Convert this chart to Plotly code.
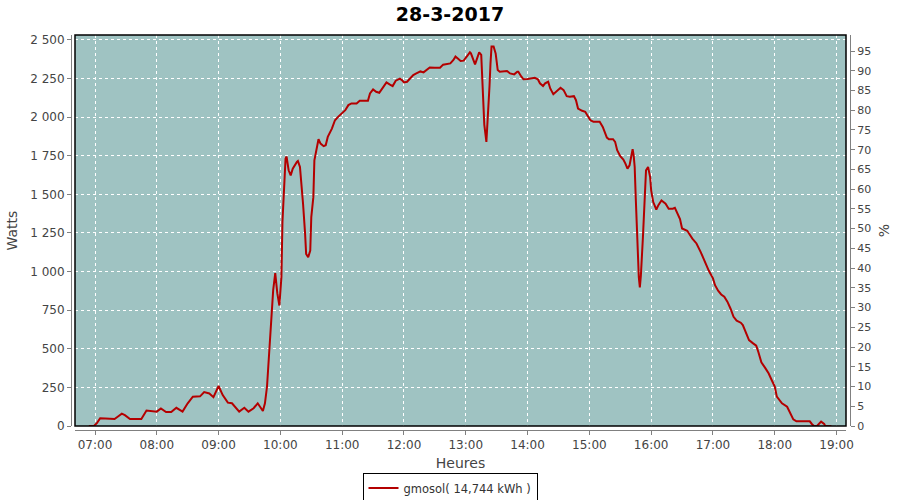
import plotly.graph_objects as go

DAY = "2017-03-28"
times = ["06:54","06:59","07:02","07:05","07:10","07:19","07:23","07:26","07:29","07:34","07:40","07:45",
         "07:50","07:55","08:00","08:04","08:09","08:14","08:19","08:25","08:30","08:35","08:42","08:46",
         "08:51","08:55","09:00","09:04","09:09","09:13","09:20","09:25","09:29","09:34","09:38","09:43",
         "09:45","09:47","09:49","09:51","09:53","09:55","09:57","09:59","10:01","10:02","10:03","10:04",
         "10:05","10:06","10:08","10:10","10:12","10:16","10:17","10:19","10:21","10:22","10:24","10:25",
         "10:27","10:29","10:30","10:32","10:33","10:35","10:37","10:39","10:42","10:44","10:46","10:50",
         "10:53","10:56","10:59","11:03","11:06","11:09","11:14","11:17","11:22","11:25","11:27","11:30",
         "11:33","11:36","11:39","11:43","11:46","11:49","11:52","11:56","11:58","12:00","12:03","12:06",
         "12:09","12:12","12:16","12:19","12:22","12:25","12:30","12:35","12:38","12:42","12:45","12:48",
         "12:50","12:52","12:55","12:58","13:01","13:04","13:05","13:07","13:09","13:11","13:13","13:15",
         "13:16","13:17","13:18","13:20","13:21","13:22","13:23","13:24","13:25","13:27","13:29","13:30",
         "13:31","13:33","13:37","13:40","13:43","13:47","13:50","13:51","13:54","13:56","14:00","14:04",
         "14:07","14:10","14:12","14:15","14:17","14:20","14:22","14:25","14:28","14:32","14:35","14:38",
         "14:41","14:45","14:47","14:49","14:53","14:56","14:58","15:01","15:04","15:10","15:13","15:15",
         "15:17","15:19","15:23","15:25","15:27","15:30","15:33","15:35","15:37","15:39","15:41","15:42",
         "15:43","15:44","15:45","15:46","15:47","15:48","15:49","15:50","15:52","15:53","15:54","15:55",
         "15:57","15:59","16:00","16:02","16:05","16:07","16:10","16:14","16:17","16:21","16:23","16:25",
         "16:28","16:30","16:35","16:40","16:44","16:48","16:52","16:56","17:00","17:02","17:05","17:08",
         "17:11","17:14","17:17","17:20","17:23","17:27","17:29","17:32","17:35","17:39","17:42","17:44",
         "17:47","17:51","17:54","17:57","18:00","18:02","18:05","18:07","18:12","18:15","18:18","18:21",
         "18:28","18:34","18:36","18:38","18:41","18:45","18:48","18:49","18:55"]
watts = [0,0,20,50,48,45,65,80,70,45,45,45,
         100,95,93,114,90,90,118,93,147,190,192,220,
         211,187,259,200,151,147,93,118,93,115,147,97,
         147,254,470,707,880,990,860,780,965,1322,1450,1600,
         1731,1745,1656,1623,1666,1710,1716,1677,1547,1439,1244,1114,
         1093,1136,1353,1482,1721,1796,1857,1829,1812,1818,1872,1926,
         1980,2002,2019,2045,2078,2089,2089,2106,2106,2106,2154,2180,
         2164,2158,2186,2225,2212,2201,2236,2249,2240,2225,2229,2251,
         2273,2283,2296,2290,2305,2322,2320,2320,2340,2344,2348,2370,
         2392,2381,2364,2366,2392,2420,2413,2370,2342,2381,2420,2403,
         2240,2110,1950,1840,1937,2067,2197,2348,2457,2457,2413,2359,
         2305,2294,2299,2299,2283,2277,2294,2294,2262,2245,2247,2251,
         2255,2245,2219,2201,2219,2229,2186,2149,2169,2190,2175,2136,
         2132,2136,2110,2056,2041,2035,2013,1980,1970,1970,1937,1905,
         1868,1857,1857,1840,1786,1747,1725,1699,1666,1688,1768,1792,
         1753,1677,1482,1266,1093,963,898,974,1223,1396,1569,1656,
         1677,1612,1526,1450,1402,1430,1460,1440,1407,1407,1413,1385,
         1340,1279,1264,1214,1182,1128,1063,1005,956,912,876,852,
         837,805,761,707,682,669,654,600,556,535,520,481,
         412,373,341,298,255,190,168,147,125,82,43,30,
         30,30,13,0,0,28,13,0,0]

watt_ticks = [0, 250, 500, 750, 1000, 1250, 1500, 1750, 2000, 2250, 2500]
pct_ticks = list(range(0, 100, 5))
hour_ticks = ["07:00","08:00","09:00","10:00","11:00","12:00","13:00","14:00","15:00","16:00","17:00","18:00","19:00"]

title_text = "28-3-2017"
series_name = "gmosol( 14,744 kWh )"

FONT = "DejaVu Sans"
W_MAX = 2532
P_MAX = 99.06

fig = go.Figure()
fig.add_trace(go.Scatter(
    x=[f"{DAY} {t}" for t in times], y=watts, mode="lines",
    line=dict(color="#B40000", width=2), name=series_name, hoverinfo="skip"))
fig.add_trace(go.Scatter(
    x=[f"{DAY} {times[0]}"], y=[0], yaxis="y2", mode="lines",
    line=dict(width=0), showlegend=False, hoverinfo="skip", opacity=0))

plot_w = 900 - 71 - 50
plot_h = 500 - 35 - 70
dx = 4 / plot_w
dy = 4 / plot_h

axis_common = dict(
    showline=True, linecolor="#808080", linewidth=1,
    ticks="outside", ticklen=4, tickcolor="#808080",
    tickfont=dict(family=FONT, size=12, color="#444444"),
    zeroline=False, automargin=False,
)

fig.update_layout(
    width=900, height=500,
    paper_bgcolor="white", plot_bgcolor="#9FC3C2",
    margin=dict(l=71, r=50, t=35, b=70, autoexpand=False),
    separators=", ",
    title=dict(text=f"<b>{title_text}</b>", x=0.5, xref="container", xanchor="center",
               y=0.972, yref="container", yanchor="middle",
               font=dict(family=FONT, size=19, color="black")),
    showlegend=True,
    legend=dict(orientation="h", x=0.5, xref="container", xanchor="center",
                y=0.024, yref="container", yanchor="middle",
                bordercolor="black", borderwidth=1, bgcolor="white",
                font=dict(family=FONT, size=11.5, color="#333333"),
                itemwidth=30),
    xaxis=dict(
        type="date", domain=[dx, 1 - dx], anchor="free", position=0,
        range=[f"{DAY} 06:40:35", f"{DAY} 19:09:10"],
        tickvals=[f"{DAY} {h}" for h in hour_ticks], ticktext=hour_ticks,
        showgrid=True, gridcolor="white", griddash="3px,3px", gridwidth=1,
        title=dict(text="Heures", font=dict(family=FONT, size=14, color="#444444"), standoff=6),
        **axis_common),
    yaxis=dict(
        domain=[dy, 1], anchor="free", position=0,
        range=[0, W_MAX], tickvals=watt_ticks, tickformat=",d",
        showgrid=True, gridcolor="white", griddash="3px,3px", gridwidth=1,
        title=dict(text="Watts", font=dict(family=FONT, size=14, color="#444444"), standoff=8),
        **axis_common),
    yaxis2=dict(
        overlaying="y", side="right", anchor="free", position=1,
        range=[0, P_MAX], tickvals=pct_ticks, showgrid=False,
        title=dict(text="%", font=dict(family=FONT, size=14, color="#444444"), standoff=8),
        **{**axis_common, "tickfont": dict(family=FONT, size=11, color="#444444")}),
    shapes=[dict(type="rect", xref="x domain", yref="y domain", x0=0, x1=1, y0=0, y1=1,
                 line=dict(color="black", width=1.5), fillcolor="rgba(0,0,0,0)", layer="above")],
)

fig.write_html("out.html", config={"displayModeBar": False},
               post_script="document.body.style.margin='0';")
